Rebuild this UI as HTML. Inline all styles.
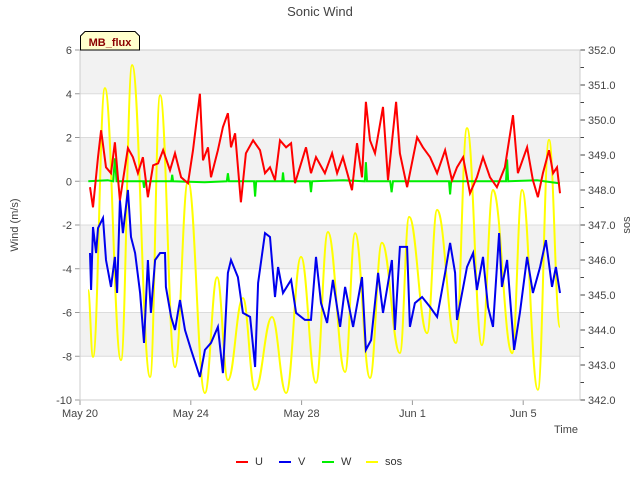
<!DOCTYPE html>
<html><head><meta charset="utf-8"><style>
body{margin:0;background:#fff;font-family:"Liberation Sans",sans-serif;}
svg text{font-family:"Liberation Sans","DejaVu Sans",sans-serif;}
</style></head><body>
<svg id="chart" width="640" height="480" xmlns="http://www.w3.org/2000/svg">
<g id="bands"></g>
<g id="grid"></g>
<g id="series"></g>
<g id="axes"></g>
<text x="320" y="16" text-anchor="middle" font-size="13" fill="#444">Sonic Wind</text>
<text transform="translate(18,225) rotate(-90)" text-anchor="middle" font-size="11" fill="#444">Wind (m/s)</text>
<text transform="translate(630,225) rotate(-90)" text-anchor="middle" font-size="11" fill="#444">sos</text>
<text x="566" y="433" text-anchor="middle" font-size="11" fill="#444">Time</text>
<g>
<path d="M80.5,50 L80.5,36 L85,31.5 L135,31.5 L139.5,36 L139.5,50 Z" fill="#ffffcc" stroke="#000" stroke-width="1"/>
<text x="110" y="46" text-anchor="middle" font-size="11" font-weight="bold" fill="#8b0000">MB_flux</text>
</g>
<g id="legend"></g>
</svg>
<script>
const dayLabels=["May 20","May 24","May 28","Jun 1","Jun 5"];
const dayTicks=[0,4,8,12,16];
const leftTicks=[6,4,2,0,-2,-4,-6,-8,-10];
const rightTicks=[352,351,350,349,348,347,346,345,344,343,342];
const uT=[.36,.47,.65,.76,.94,1.12,1.26,1.44,1.73,1.91,2.09,2.27,2.45,2.64,2.82,3.0,3.25,3.43,3.65,3.9,4.08,4.33,4.44,4.62,4.73,4.98,5.16,5.34,5.45,5.6,5.81,5.99,6.25,6.5,6.68,6.86,7.04,7.22,7.44,7.62,7.76,8.16,8.34,8.52,8.84,9.1,9.28,9.49,9.82,10.0,10.18,10.32,10.47,10.65,10.94,11.12,11.41,11.55,11.81,12.17,12.38,12.64,12.89,13.18,13.43,13.61,13.83,14.08,14.33,14.55,14.8,15.05,15.34,15.63,15.81,16.14,16.35,16.53,16.71,16.93,17.08,17.22,17.33];
const uV=[-0.27,-1.19,1.1,2.33,0.64,0.37,1.78,-0.87,1.51,1.1,0.37,1.1,-0.73,0.73,0.82,1.42,0.5,1.28,0.18,-0.09,1.42,4.0,0.96,1.55,0.18,1.42,2.47,3.11,1.55,2.19,-0.96,1.28,1.87,1.42,0.37,0.64,0.05,1.87,1.55,1.74,-0.09,1.55,0.37,1.1,0.37,1.28,0.37,1.1,-0.41,1.74,0.18,3.63,1.87,1.28,3.4,0.05,3.63,1.28,-0.27,2.01,1.55,1.1,0.37,1.42,0.05,0.64,1.1,-0.55,0.18,1.1,0.18,-0.27,0.64,3.02,0.37,1.55,0.05,-0.73,0.37,1.42,0.37,0.64,-0.55];
const vT=[.36,.40,.47,.58,.65,.83,.94,1.12,1.26,1.34,1.44,1.55,1.73,1.84,1.99,2.17,2.31,2.45,2.56,2.71,2.89,3.07,3.10,3.29,3.43,3.61,3.79,4.01,4.33,4.51,4.73,4.98,5.16,5.34,5.45,5.70,5.88,6.14,6.32,6.43,6.68,6.86,7.04,7.15,7.33,7.62,7.80,8.12,8.34,8.52,8.70,8.92,9.13,9.39,9.57,9.86,10.18,10.32,10.51,10.76,10.94,11.26,11.37,11.55,11.81,11.91,12.09,12.35,12.64,12.89,13.18,13.36,13.54,13.61,13.97,14.19,14.33,14.55,14.73,14.91,15.13,15.23,15.42,15.67,15.88,16.14,16.35,16.61,16.82,17.04,17.18,17.33];
const vV=[-3.28,-4.97,-2.09,-3.28,-2.14,-1.68,-3.6,-4.83,-3.46,-5.11,-0.86,-2.37,-0.4,-2.55,-3.28,-5.11,-7.39,-3.6,-6.02,-3.6,-3.28,-3.28,-4.83,-6.2,-6.8,-5.43,-6.8,-7.71,-8.95,-7.71,-7.39,-6.66,-8.77,-4.19,-3.6,-4.38,-6.02,-6.2,-8.49,-4.65,-2.37,-2.55,-5.29,-3.92,-5.11,-4.51,-6.02,-6.34,-6.34,-3.46,-5.57,-6.48,-4.51,-6.66,-4.83,-6.66,-4.38,-7.71,-7.26,-4.19,-6.02,-3.6,-6.8,-3.0,-3.0,-6.66,-5.57,-5.29,-5.75,-6.2,-4.19,-2.82,-4.19,-6.34,-3.92,-3.28,-4.97,-3.46,-5.75,-6.66,-2.37,-4.83,-3.6,-7.71,-6.02,-3.46,-5.11,-3.92,-2.69,-4.83,-3.92,-5.11];
const wT=[.3,1.0,1.2,1.26,1.32,2.0,2.28,2.31,2.34,3.3,3.33,3.36,4.5,5.3,5.34,5.38,6.28,6.32,6.36,7.3,7.33,7.36,8.3,8.34,8.38,9.5,10.28,10.32,10.36,11.2,11.25,11.3,12.5,13.32,13.36,13.4,14.5,15.38,15.42,15.46,16.5,17.33];
const wV=[0,0.05,0,1.05,0,0,0,-0.3,0,0,0.3,0,-0.05,0,0.37,0,0,-0.7,0,0,0.4,0,0,-0.5,0,0.05,0,0.87,0,0,-0.5,0,0,0,-0.6,0,0,0,1.0,0,0.05,-0.1];
const sT=[.29,.47,.9,1.48,1.88,2.53,2.89,3.43,3.9,4.51,4.95,5.34,5.88,6.32,6.93,7.44,7.98,8.52,8.95,9.57,9.93,10.47,10.9,11.55,11.88,12.53,12.89,13.57,13.97,14.51,14.91,15.6,15.96,16.53,16.93,17.33];
const sV=[345.14,343.23,350.91,343.14,351.57,342.66,350.71,342.94,348.26,342.2,345.51,342.57,344.91,342.29,344.37,342.2,346.09,342.49,346.8,342.8,346.77,342.63,346.49,343.34,347.23,343.91,347.43,343.63,349.77,343.57,348.0,343.34,348.0,342.29,349.43,344.09];

const NS="http://www.w3.org/2000/svg";
const L=80,R=580,T=50,B=400;
const xs=d=>L+d*27.7;
const yl=v=>T+(6-v)*(B-T)/16;
const yr=v=>T+(352-v)*(B-T)/10;
function mk(tag,attrs,parent){const e=document.createElementNS(NS,tag);for(const k in attrs)e.setAttribute(k,attrs[k]);parent.appendChild(e);return e;}
const bands=document.getElementById('bands'),grid=document.getElementById('grid'),axes=document.getElementById('axes'),series=document.getElementById('series'),legend=document.getElementById('legend');
for(let i=0;i<leftTicks.length-1;i++){
  const b=mk('rect',{x:L,y:yl(leftTicks[i]),width:R-L,height:yl(leftTicks[i+1])-yl(leftTicks[i]),fill:i%2===0?'#f2f2f2':'#ffffff'},bands);
  
  
}
leftTicks.forEach(v=>{
  const g=mk('line',{x1:L,x2:R,y1:yl(v),y2:yl(v),stroke:'#dcdcdc','stroke-width':1},grid);
  
  
  mk('line',{x1:L-5,x2:L,y1:yl(v),y2:yl(v),stroke:'#999'},axes);
  const t=mk('text',{x:L-8,y:yl(v)+4,'text-anchor':'end','font-size':11,fill:'#444'},axes);
  t.textContent=v;
  
  
});
rightTicks.forEach((v,i)=>{
  mk('line',{x1:R,x2:R+5,y1:yr(v),y2:yr(v),stroke:'#444'},axes);
  if(i<rightTicks.length-1) mk('line',{x1:R,x2:R+4,y1:yr(v-0.5),y2:yr(v-0.5),stroke:'#444'},axes);
  const t=mk('text',{x:R+8,y:yr(v)+4,'font-size':11,fill:'#444'},axes);
  t.textContent=v.toFixed(1);
  
  
});
dayTicks.forEach((d,i)=>{
  mk('line',{x1:xs(d),x2:xs(d),y1:B,y2:B+5,stroke:'#999'},axes);
  const t=mk('text',{x:xs(d),y:B+17,'text-anchor':'middle','font-size':11,fill:'#444'},axes);
  t.textContent=dayLabels[i];
  
  
});
const fr=mk('rect',{x:L,y:T,width:R-L,height:B-T,fill:'none',stroke:'#ccc'},axes);


function poly(ts,vs,yf){return ts.map((t,i)=>xs(t).toFixed(1)+','+yf(vs[i]).toFixed(1)).join(' ');}
function smooth(ts,vs,yf){
  const p=ts.map((t,i)=>[xs(t),yf(vs[i])]);let d='M'+p[0][0].toFixed(1)+','+p[0][1].toFixed(1);
  for(let i=0;i<p.length-1;i++){const a=p[i],b=p[i+1],dx=(b[0]-a[0])*0.42;
    d+=' C'+(a[0]+dx).toFixed(1)+','+a[1].toFixed(1)+' '+(b[0]-dx).toFixed(1)+','+b[1].toFixed(1)+' '+b[0].toFixed(1)+','+b[1].toFixed(1);}
  return d;}
const sos=mk('path',{d:smooth(sT,sV,yr),fill:'none',stroke:'#ffff00','stroke-width':2},series);


const wl=mk('polyline',{points:poly(wT,wV,yl),fill:'none',stroke:'#00ee00','stroke-width':2},series);


const vl=mk('polyline',{points:poly(vT,vV,yl),fill:'none',stroke:'#0000ee','stroke-width':2},series);


const ul=mk('polyline',{points:poly(uT,uV,yl),fill:'none',stroke:'#ff0000','stroke-width':2},series);


const legItems=[['U','#ff0000',236],['V','#0000ee',279],['W','#00ee00',322],['sos','#ffff00',366]];
legItems.forEach(([n,c,x])=>{
  const g=mk('g',{},legend);
  
  
  mk('line',{x1:x,x2:x+12,y1:462,y2:462,stroke:c,'stroke-width':2},g);
  const t=mk('text',{x:x+19,y:465,'font-size':11,fill:'#333'},g);t.textContent=n;
});
</script>
</body></html>
